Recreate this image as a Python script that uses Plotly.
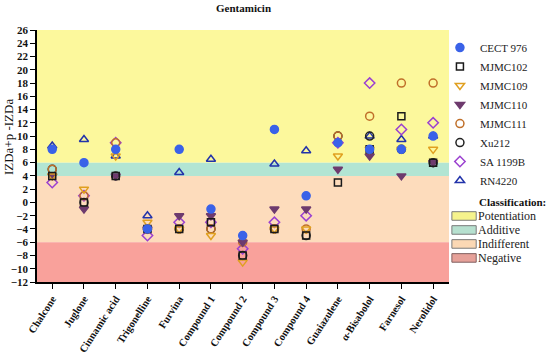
import plotly.graph_objects as go

categories = ["Chalcone", "Juglone", "Cinnamic acid", "Trigonelline", "Furvina",
              "Compound 1", "Compound 2", "Compound 3", "Compound 4", "Guaiazulene",
              "α-Bisabolol", "Farnesol", "Nerolidol"]

cect976 = [8, 6, 8, -4, 8, -1, -5, 11, 1, 9, 8, 8, 10]
mjmc102 = [4, 0, 4, -4, -4, -3, -8, -4, -5, 3, 8, 13, 6]
mjmc109 = [4, 2, 7, -3, -4, -5, -9, -4, -4, 7, 8, 8, 8]
mjmc110 = [4, -1, 4, -4, -2, -2, -6, -1, -1, 5, 7, 4, 6]
mjmc111 = [5, 1, 9, -4, -4, -4, -6, -4, -4, 10, 13, 18, 18]
xu212 = [5, 0, 4, -4, -4, -4, -8, -4, -5, 10, 10, 8, 6]
sa1199b = [3, 1, 9, -5, -3, -3, -7, -3, -2, 9, 18, 11, 12]
rn4220 = [8.5, 9.5, 7, -2, 4.5, 6.5, None, 5.8, 7.8, None, 10, 9.5, 10]

y_ticks = list(range(-12, 27, 2))

bands = [  # (label, low, high, fill, legend fill, border)
    ("Potentiation", 6, 26, "#fcf89c", "#f6f38c", "#7a7a7a"),
    ("Additive", 4, 6, "#b2e5d3", "#b6e0cf", "#7a7a7a"),
    ("Indifferent", -6, 4, "#fddcbc", "#fbd8b4", "#7a7a7a"),
    ("Negative", -12, -6, "#f9a19b", "#e6a199", "#806060"),
]

FONT = "Liberation Serif"

series = [
    ("RN4220", rn4220, "triangle-up-open", "#2233aa", 8),
    ("SA 1199B", sa1199b, "diamond-open", "#9b40d0", 8),
    ("Xu212", xu212, "circle-open", "#222222", 8),
    ("MJMC111", mjmc111, "circle-open", "#c0702a", 8),
    ("MJMC110", mjmc110, "triangle-down", "#6e3b6e", 8),
    ("MJMC109", mjmc109, "triangle-down-open", "#e0a020", 8),
    ("MJMC102", mjmc102, "square-open", "#1a1a1a", 7),
    ("CECT 976", cect976, "circle", "#3a62e8", 8),
]

fig = go.Figure()
for name, vals, sym, col, sz in series:
    fig.add_trace(go.Scatter(
        x=categories, y=vals, mode="markers", name=name,
        marker=dict(symbol=sym, color=col, size=sz, line=dict(color=col, width=1.5)),
    ))

shapes = []
for label, lo, hi, fill, lfill, border in bands:
    shapes.append(dict(type="rect", xref="paper", yref="y", x0=0, x1=1, y0=lo, y1=hi,
                       fillcolor=fill, line=dict(width=0), layer="below"))

annotations = [
    dict(text="<b>Gentamicin</b>", xref="paper", yref="paper", x=0.5, y=1.0, yshift=22,
         yanchor="middle", showarrow=False, font=dict(family=FONT, size=11, color="#111")),
    dict(text="IZDa+p -IZDa", xref="paper", yref="paper", x=0, xshift=-29, y=0.575,
         xanchor="center", yanchor="middle",
         textangle=-90, showarrow=False, font=dict(family=FONT, size=13, color="#111")),
    dict(text="<b>Classification:</b>", xref="paper", yref="paper", x=1.068, y=0.317,
         xanchor="left", yanchor="middle", showarrow=False,
         font=dict(family=FONT, size=11, color="#111")),
]
for i, (label, lo, hi, fill, lfill, border) in enumerate(bands):
    yc = 0.262 - i * 0.0555
    shapes.append(dict(type="rect", xref="paper", yref="paper", x0=1.007, x1=1.066,
                       y0=yc - 0.017, y1=yc + 0.017, fillcolor=lfill,
                       line=dict(color=border, width=1)))
    annotations.append(dict(text=label, xref="paper", yref="paper", x=1.066, y=yc,
                            xanchor="left", yanchor="middle", showarrow=False,
                            font=dict(family=FONT, size=12, color="#222")))

fig.update_layout(
    width=550, height=356,
    margin=dict(l=37, r=101, t=30, b=74),
    plot_bgcolor="white", paper_bgcolor="white",
    font=dict(family=FONT, size=11, color="#111"),
    shapes=shapes, annotations=annotations,
    showlegend=True,
    legend=dict(x=0.978, y=0.988, xanchor="left", yanchor="top", traceorder="reversed",
                font=dict(family=FONT, size=11, color="#222"), bgcolor="rgba(0,0,0,0)",
                itemwidth=30, tracegroupgap=0),
    xaxis=dict(range=[-0.48, 12.5], showgrid=False, showline=True, linecolor="black",
               linewidth=1.5, ticks="outside", ticklen=5, tickcolor="black", tickangle=-57,
               tickfont=dict(family=FONT, size=10.5, color="#111", weight="bold"),
               zeroline=False, automargin=False),
    yaxis=dict(range=[-12, 26], tickvals=y_ticks, showgrid=False, showline=True,
               linecolor="black", linewidth=1.5, ticks="outside", ticklen=5,
               tickcolor="black", zeroline=False, automargin=False,
               tickfont=dict(family=FONT, size=11, color="#111", weight="bold")),
)

fig.write_html("out.html", config={"displayModeBar": False},
               post_script="document.body.style.margin='0';")
